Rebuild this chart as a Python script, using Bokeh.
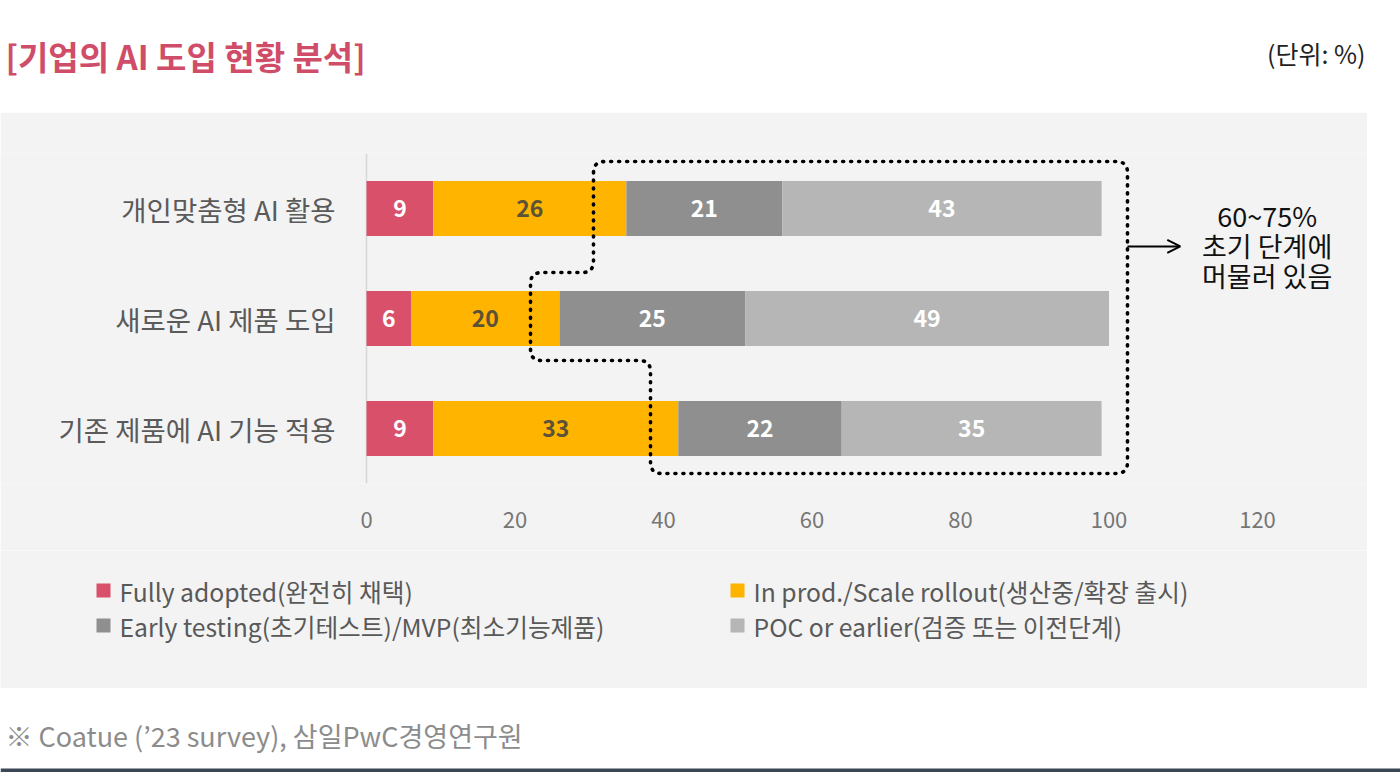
import numpy as np
from bokeh.plotting import figure
from bokeh.models import (ColumnDataSource, Range1d, FixedTicker,
                          Arrow, OpenHead, BoxAnnotation)
from bokeh.layouts import column
from bokeh.core.properties import value
from bokeh.embed import file_html
from bokeh.resources import INLINE

# ---------------- data ----------------
categories = ["개인맞춤형 AI 활용", "새로운 AI 제품 도입", "기존 제품에 AI 기능 적용"]
fully_adopted = [9, 6, 9]
in_production = [26, 20, 33]
early_testing = [21, 25, 22]
poc_or_earlier = [43, 49, 35]
series_names = ["Fully adopted(완전히 채택)", "In prod./Scale rollout(생산중/확장 출시)",
                "Early testing(초기테스트)/MVP(최소기능제품)", "POC or earlier(검증 또는 이전단계)"]
series_colors = ["#d9506b", "#ffb400", "#8f8f8f", "#b6b6b6"]
label_colors = ["#ffffff", "#5b5238", "#ffffff", "#ffffff"]
x_ticks = [0, 20, 40, 60, 80, 100, 120]

title_text = "[기업의 AI 도입 현황 분석]"
unit_text = "(단위: %)"
note_text = "60~75%\n초기 단계에\n머물러 있음"
source_text = "※ Coatue (’23 survey), 삼일PwC경영연구원"

FONT = value("Noto Sans CJK KR")
PANEL = "#f3f3f3"


def blank(fig, bg):
    fig.axis.visible = False
    fig.grid.visible = False
    fig.outline_line_color = None
    fig.background_fill_color = bg
    fig.border_fill_color = bg


# ---------------- header ----------------
HW, HH = 1400, 112
header = figure(width=HW, height=HH, output_backend="svg", toolbar_location=None,
                x_range=Range1d(0, HW), y_range=Range1d(HH, 0), min_border=0)
blank(header, "white")
header.text(x=[5], y=[55], text=[title_text], text_font=FONT, text_font_size="33px",
            text_font_style="bold", text_color="#cf4d68", text_baseline="middle")
header.text(x=[1365], y=[52], text=[unit_text], text_font=FONT, text_font_size="25px",
            text_color="#222222", text_baseline="middle", text_align="right")

# ---------------- main chart ----------------
MW, MH = 1367, 438
AXIS_LEFT = 366
PX_PER_X = 7.425
PX_PER_Y = 110.0
n_cat = len(categories)
y_pos = [n_cat - 0.5 - i for i in range(n_cat)]   # first category on top

main = figure(width=MW, height=MH, output_backend="svg", toolbar_location=None,
              y_range=Range1d(0, n_cat), y_axis_location=None,
              x_range=Range1d(-AXIS_LEFT / PX_PER_X, (MW - AXIS_LEFT) / PX_PER_X),
              min_border_left=0, min_border_right=0, min_border_top=41, min_border_bottom=67)
main.background_fill_color = PANEL
main.border_fill_color = PANEL
main.outline_line_color = None
main.grid.visible = False

# category axis line
main.segment(x0=[0], y0=[0], x1=[0], y1=[n_cat], line_color="#d6d6d6", line_width=1.5)

stack_keys = ["s0", "s1", "s2", "s3"]
src = ColumnDataSource(dict(y=y_pos, s0=fully_adopted, s1=in_production,
                            s2=early_testing, s3=poc_or_earlier))
main.hbar_stack(stack_keys, y="y", height=0.5, color=series_colors, line_color=None,
                source=src)

all_series = [fully_adopted, in_production, early_testing, poc_or_earlier]
cum = np.cumsum(np.array(all_series), axis=0)
for k, vals in enumerate(all_series):
    centers = cum[k] - np.array(vals) / 2.0
    main.text(x=list(centers), y=y_pos, text=[str(v) for v in vals],
              text_font=FONT, text_font_size="23px", text_font_style="bold",
              text_color=label_colors[k], text_align="center", text_baseline="middle")

# category labels
main.text(x=[-31 / PX_PER_X] * n_cat, y=y_pos, text=categories, text_font=FONT,
          text_font_size="27.5px", text_color="#5a5a5a", text_align="right",
          text_baseline="middle")

main.xaxis.ticker = FixedTicker(ticks=x_ticks)
main.xaxis.axis_line_color = None
main.xaxis.major_tick_line_color = None
main.xaxis.minor_tick_line_color = None
main.xaxis.major_label_text_font = "Noto Sans CJK KR"
main.xaxis.major_label_text_font_size = "22px"
main.xaxis.major_label_text_color = "#767676"
main.xaxis.major_label_standoff = 22

# dotted outline around the "early stage" segments (vertices in data units)
outline_x = [30.57, 102.49, 102.49, 38.25, 38.25, 22.09, 22.09, 30.57]
outline_y = [2.927, 2.927, 0.091, 0.091, 1.118, 1.118, 1.918, 1.918]


def rounded_path(xs, ys, r_px=11, n=8):
    px = np.array(xs) * PX_PER_X
    py = np.array(ys) * PX_PER_Y
    m = len(px)
    out_x, out_y = [], []
    for i in range(m):
        p0 = np.array([px[i - 1], py[i - 1]])
        p1 = np.array([px[i], py[i]])
        p2 = np.array([px[(i + 1) % m], py[(i + 1) % m]])
        d1 = (p0 - p1) / np.linalg.norm(p0 - p1)
        d2 = (p2 - p1) / np.linalg.norm(p2 - p1)
        a = p1 + d1 * r_px
        b = p1 + d2 * r_px
        for t in np.linspace(0, 1, n):
            q = (1 - t) ** 2 * a + 2 * (1 - t) * t * p1 + t ** 2 * b
            out_x.append(q[0])
            out_y.append(q[1])
    out_x.append(out_x[0])
    out_y.append(out_y[0])
    return [v / PX_PER_X for v in out_x], [v / PX_PER_Y for v in out_y]


rx, ry = rounded_path(outline_x, outline_y)
main.line(rx, ry, line_color="black", line_width=3.6, line_dash="1 7", line_cap="round")

arrow_y = 2.155
main.add_layout(Arrow(end=OpenHead(size=13, line_width=2, line_color="black"),
                      x_start=102.49, y_start=arrow_y, x_end=109.6, y_end=arrow_y,
                      line_width=2, line_color="black"))
main.text(x=[121.3], y=[2.164], text=[note_text], text_font=FONT,
          text_font_size="27px", text_color="#111111", text_align="center",
          text_baseline="middle", text_line_height=0.77)

# ---------------- legend ----------------
LW, LH = 1367, 138
leg = figure(width=LW, height=LH, output_backend="svg", toolbar_location=None,
             x_range=Range1d(0, LW), y_range=Range1d(LH, 0), min_border=0)
blank(leg, PANEL)
leg_col_x = [103, 737, 103, 737]
leg_row_y = [40, 40, 75, 75]
leg.rect(x=leg_col_x, y=leg_row_y, width=14, height=14, width_units="screen",
         height_units="screen", fill_color=series_colors, line_color=None)
leg.text(x=[v + 16 for v in leg_col_x], y=leg_row_y, text=series_names, text_font=FONT,
         text_font_size="24.7px", text_color="#595959", text_baseline="middle")

# ---------------- footer ----------------
FW, FH = 1400, 84
foot = figure(width=FW, height=FH, output_backend="svg", toolbar_location=None,
              x_range=Range1d(0, FW), y_range=Range1d(FH, 0), min_border=0)
blank(foot, "white")
foot.text(x=[5], y=[47], text=[source_text], text_font=FONT, text_font_size="27px",
          text_color="#8c8c8c", text_baseline="middle")
foot.add_layout(BoxAnnotation(top=FH - 4, bottom=FH, fill_color="#3b4754", fill_alpha=1,
                              line_color=None))

layout = column(header, main, leg, foot, spacing=0)
open("out.html", "w").write(file_html(layout, INLINE))
